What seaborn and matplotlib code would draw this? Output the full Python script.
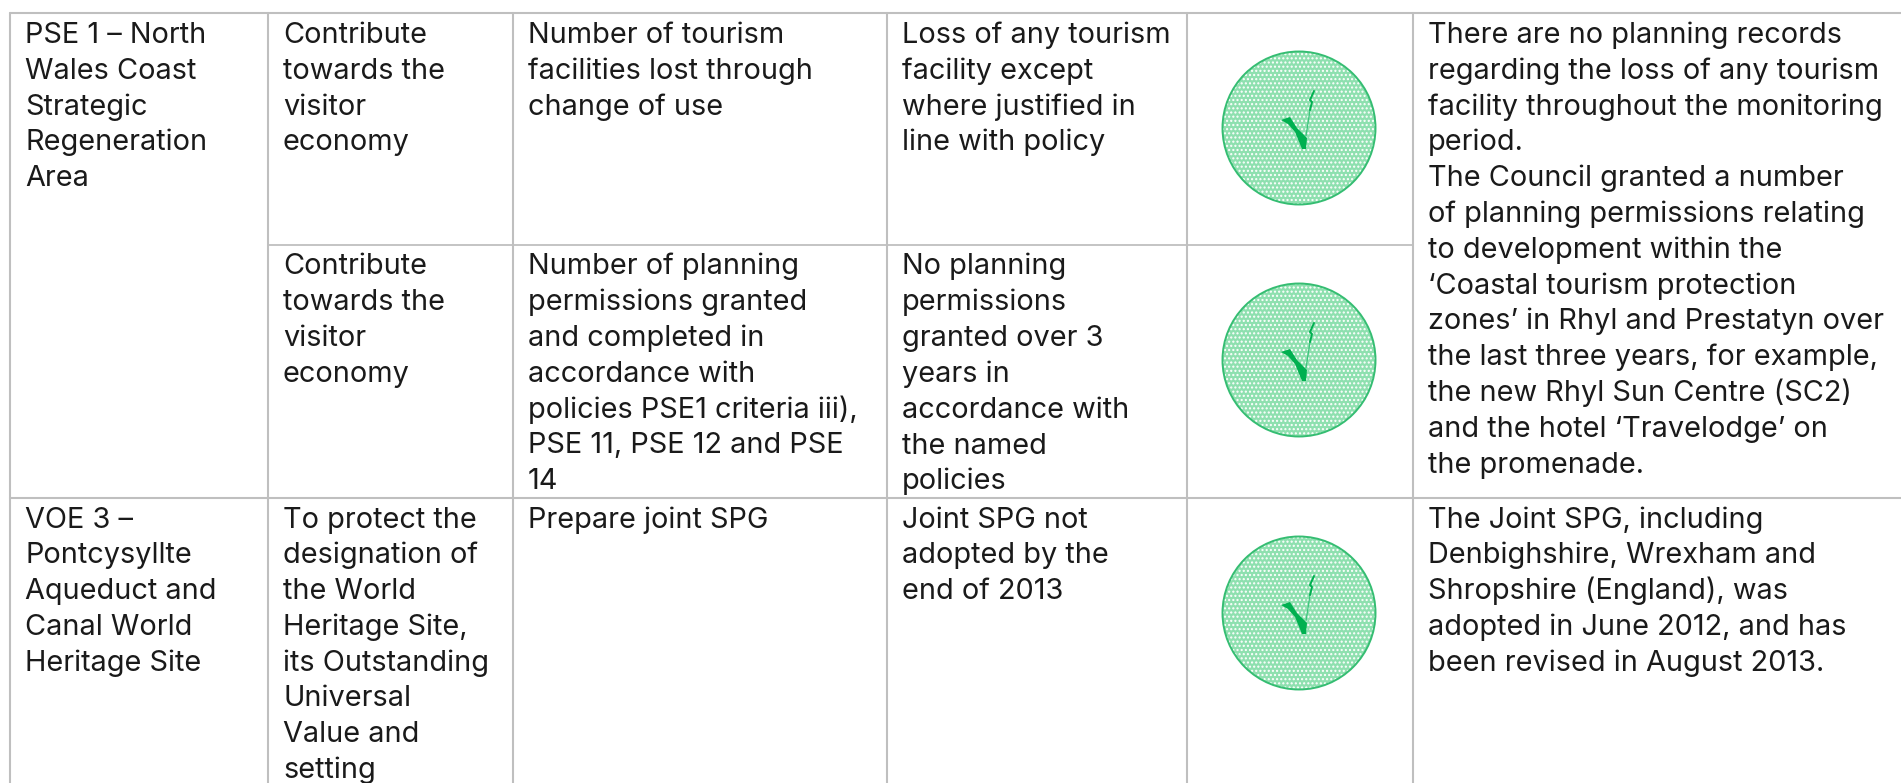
import matplotlib
matplotlib.use("Agg")
import matplotlib.pyplot as plt
import seaborn as sns
from matplotlib.patches import Circle, Polygon

sns.set_theme(style="white")
plt.rcParams["font.family"] = ["Inter", "DejaVu Sans"]
plt.rcParams["hatch.linewidth"] = 1.0

# table contents, one list of lines per cell
col_1 = [
    ["PSE 1 – North", "Wales Coast", "Strategic", "Regeneration", "Area"],
    ["VOE 3 –", "Pontcysyllte", "Aqueduct and", "Canal World", "Heritage Site"],
]
col_2 = [
    ["Contribute", "towards the", "visitor", "economy"],
    ["Contribute", "towards the", "visitor", "economy"],
    ["To protect the", "designation of", "the World", "Heritage Site,", "its Outstanding",
     "Universal", "Value and", "setting"],
]
col_3 = [
    ["Number of tourism", "facilities lost through", "change of use"],
    ["Number of planning", "permissions granted", "and completed in", "accordance with",
     "policies PSE1 criteria iii),", "PSE 11, PSE 12 and PSE", "14"],
    ["Prepare joint SPG"],
]
col_4 = [
    ["Loss of any tourism", "facility except", "where justified in", "line with policy"],
    ["No planning", "permissions", "granted over 3", "years in", "accordance with",
     "the named", "policies"],
    ["Joint SPG not", "adopted by the", "end of 2013"],
]
col_6 = [
    ["There are no planning records", "regarding the loss of any tourism",
     "facility throughout the monitoring", "period.", "The Council granted a number",
     "of planning permissions relating", "to development within the",
     "‘Coastal tourism protection", "zones’ in Rhyl and Prestatyn over",
     "the last three years, for example,", "the new Rhyl Sun Centre (SC2)",
     "and the hotel ‘Travelodge’ on", "the promenade."],
    ["The Joint SPG, including", "Denbighshire, Wrexham and",
     "Shropshire (England), was", "adopted in June 2012, and has",
     "been revised in August 2013."],
]

col_x = [10, 268, 513, 887, 1187, 1413]
top_y = 13
row_1_y = 244.5
row_2_y = 497.5
fontsize = 20.8
line_h = 35.8
text_color = "#1a1a1a"
grid_color = "#bfbfbf"
green = "#00b050"


def draw_cell(ax, x, y, lines):
    for i, line in enumerate(lines):
        ax.text(x + 15, y + 30 + i * line_h, line, fontsize=fontsize, color=text_color,
                ha="left", va="baseline", clip_on=True)


def draw_tick(ax, cx, cy):
    ax.add_patch(Circle((cx, cy), 76.5, facecolor="#8ee0af", edgecolor="#ffffff", lw=0,
                        hatch="...."))
    ax.add_patch(Circle((cx, cy), 76.5, fill=False, edgecolor="#35bd72", linewidth=1.4))
    ax.add_patch(Polygon([(cx - 18, cy - 8), (cx - 9, cy - 11), (cx - 2, cy), (cx + 8, cy + 10),
                          (cx + 7, cy + 21), (cx + 3, cy + 21), (cx - 4, cy + 4), (cx - 11, cy - 4)],
                         color=green, lw=0))
    ax.plot([cx + 7, cx + 11], [cy + 8, cy - 18], color="#3cc47c", lw=0.9)
    ax.plot([cx + 11, cx + 13, cx + 11, cx + 15], [cy - 18, cy - 26, cy - 28, cy - 37], color=green, lw=1.4)


fig = plt.figure(figsize=(19.01, 7.83), dpi=100)
ax = fig.add_axes([0, 0, 1, 1])
ax.set_xlim(0, 1901)
ax.set_ylim(783, 0)
ax.axis("off")

# grid lines
for y in [top_y, row_2_y]:
    ax.plot([col_x[0], 1901], [y, y], color=grid_color, lw=1.5)
ax.plot([col_x[1], col_x[5]], [row_1_y, row_1_y], color=grid_color, lw=1.3)
for x in col_x:
    ax.plot([x, x], [top_y, 783], color=grid_color, lw=1.5)

draw_cell(ax, col_x[0], top_y, col_1[0])
draw_cell(ax, col_x[0], row_2_y, col_1[1])
for x, cells in zip(col_x[1:4], [col_2, col_3, col_4]):
    draw_cell(ax, x, top_y, cells[0])
    draw_cell(ax, x, row_1_y, cells[1])
    draw_cell(ax, x, row_2_y, cells[2])
draw_cell(ax, col_x[5], top_y, col_6[0])
draw_cell(ax, col_x[5], row_2_y, col_6[1])

for cy in [128, 360, 613]:
    draw_tick(ax, 1299, cy)

fig.savefig("out.png", dpi=100)
